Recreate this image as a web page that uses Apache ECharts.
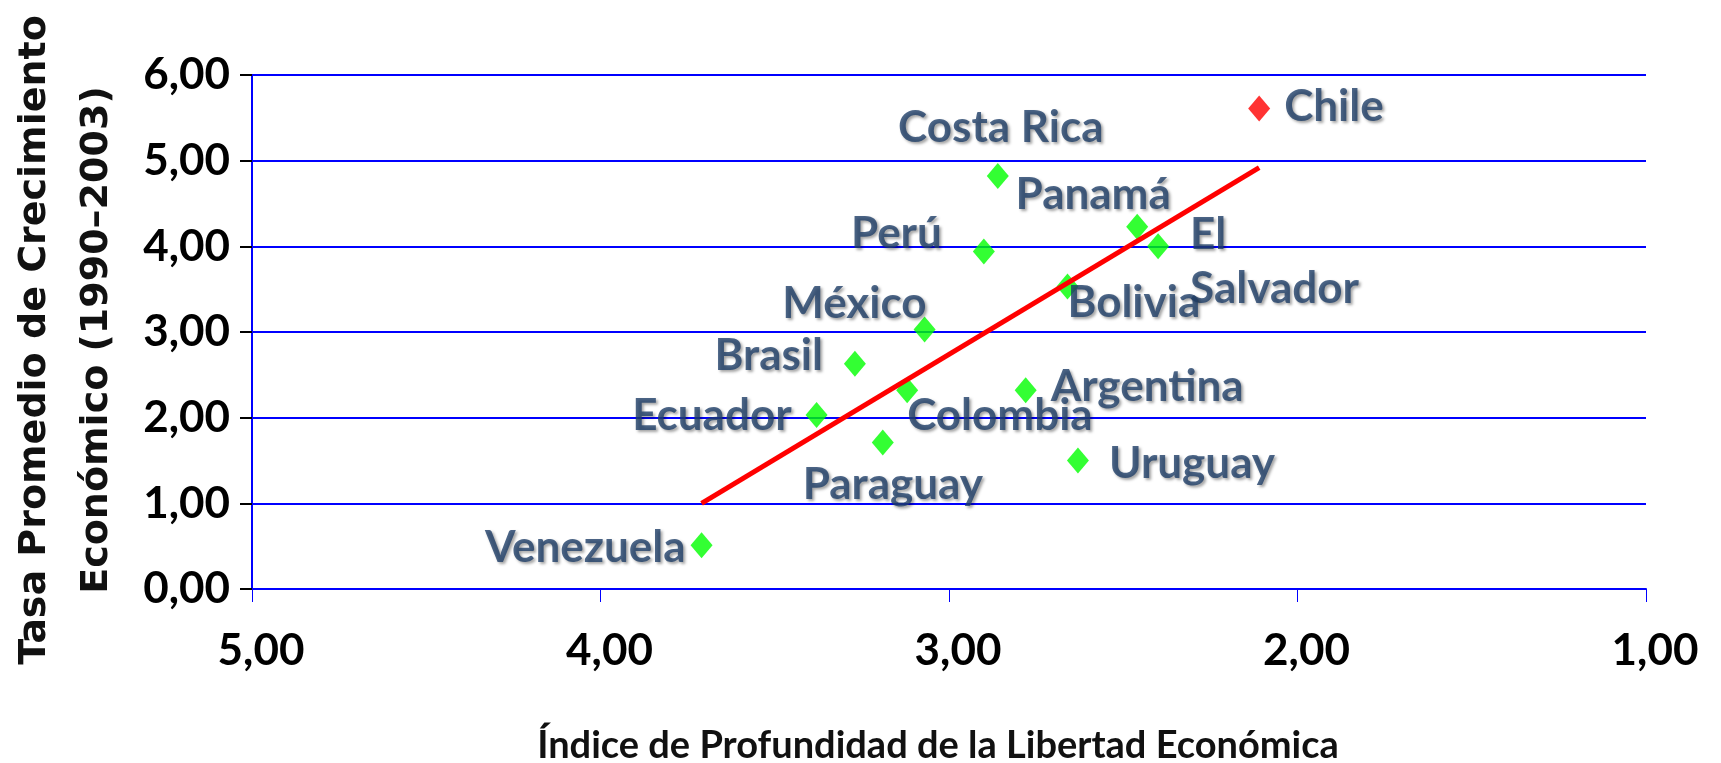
<!DOCTYPE html>
<html>
<head>
<meta charset="utf-8">
<script src="https://cdn.jsdelivr.net/npm/echarts@6/dist/echarts.min.js"></script>
<style>
  html, body { margin: 0; padding: 0; background: #fff; }
  #chart { width: 1721px; height: 763px; }
</style>
</head>
<body>
<div id="chart"></div>
<script>
// data
var countries = ['Chile', 'Costa Rica', 'Panamá', 'El Salvador', 'Perú', 'Bolivia', 'México',
  'Brasil', 'Argentina', 'Colombia', 'Ecuador', 'Paraguay', 'Uruguay', 'Venezuela'];
var libertad = [2.11, 2.86, 2.46, 2.40, 2.90, 2.66, 3.07, 3.27, 2.78, 3.12, 3.38, 3.19, 2.63, 3.71];
var crecimiento = [5.61, 4.82, 4.23, 4.00, 3.94, 3.53, 3.03, 2.63, 2.32, 2.32, 2.03, 1.71, 1.50, 0.51];
var trendX = [3.71, 2.11];
var trendY = [1.00, 4.92];
var highlight = 'Chile';

// where each country name sits around its marker
var labelLayout = {
  'Chile': { align: 'left', offset: [25, -2] },
  'Costa Rica': { align: 'center', offset: [3, -48] },
  'Panamá': { align: 'center', offset: [-44, -32] },
  'El Salvador': { align: 'left', offset: [32, 15], text: 'El\nSalvador' },
  'Perú': { align: 'right', offset: [-42, -18] },
  'Bolivia': { align: 'left', offset: [0, 16] },
  'México': { align: 'right', offset: [2, -26] },
  'Brasil': { align: 'right', offset: [-32, -8] },
  'Argentina': { align: 'left', offset: [25, -3] },
  'Colombia': { align: 'left', offset: [0, 26] },
  'Ecuador': { align: 'right', offset: [-25, 1] },
  'Paraguay': { align: 'center', offset: [10, 42] },
  'Uruguay': { align: 'left', offset: [31, 3] },
  'Venezuela': { align: 'right', offset: [-16, 3] }
};

function coma(v) {
  return v.toFixed(2).replace('.', ',');
}

var points = [];
for (var i = 0; i < countries.length; i++) {
  var lay = labelLayout[countries[i]];
  points.push({
    name: countries[i],
    value: [libertad[i], crecimiento[i]],
    itemStyle: { color: countries[i] === highlight ? '#ff0000' : '#00ff00' },
    label: {
      align: lay.align,
      offset: lay.offset,
      formatter: lay.text || countries[i]
    }
  });
}

var trend = [];
for (var j = 0; j < trendX.length; j++) {
  trend.push([trendX[j], trendY[j]]);
}

var myChart = echarts.init(document.getElementById('chart'));
var option = {
  animation: false,
  grid: { left: 252, right: 75, top: 75, bottom: 174, containLabel: false, outerBoundsMode: 'none' },
  xAxis: {
    type: 'value',
    min: 1,
    max: 5,
    interval: 1,
    inverse: true,
    name: 'Índice de Profundidad de la Libertad Económica',
    nameLocation: 'middle',
    nameGap: 138,
    nameTextStyle: {
      fontFamily: 'Lato', fontWeight: 'bold', fontSize: 38, color: '#111',
      padding: [0, 22, 0, 0]
    },
    axisLine: { lineStyle: { color: '#0000ff', width: 2 } },
    axisTick: { length: 13, lineStyle: { color: '#0000ff', width: 1 } },
    axisLabel: {
      margin: 40,
      formatter: coma,
      fontFamily: 'Lato', fontWeight: 'bold', fontSize: 44, color: '#000',
      padding: [0, 0, 0, 18]
    },
    splitLine: { show: false }
  },
  yAxis: {
    type: 'value',
    min: 0,
    max: 6,
    interval: 1,
    name: 'Tasa Promedio de Crecimiento\nEconómico (1990–2003)',
    nameLocation: 'middle',
    nameRotate: 90,
    nameGap: 124,
    nameTextStyle: {
      fontFamily: 'DejaVu Sans', fontWeight: 'bold', fontSize: 38, color: '#111',
      lineHeight: 62,
      padding: [0, 16, 0, 0]
    },
    axisLine: { show: true, lineStyle: { color: '#0000ff', width: 2 } },
    axisTick: { show: true, length: 12, lineStyle: { color: '#000', width: 2 } },
    axisLabel: {
      margin: 22,
      formatter: coma,
      fontFamily: 'Lato', fontWeight: 'bold', fontSize: 44, color: '#000'
    },
    splitLine: { lineStyle: { color: '#0000ff', width: 2 } }
  },
  series: [
    {
      type: 'scatter',
      symbol: 'diamond',
      symbolSize: [22, 26],
      z: 2,
      data: points,
      label: {
        show: true,
        position: 'inside',
        verticalAlign: 'middle',
        fontFamily: 'Lato',
        fontWeight: 'bold',
        fontSize: 44,
        lineHeight: 54,
        color: '#1f3f68',
        textShadowColor: 'rgba(0,0,0,0.45)',
        textShadowBlur: 3,
        textShadowOffsetX: 2,
        textShadowOffsetY: 2
      }
    },
    {
      type: 'line',
      data: trend,
      symbol: 'none',
      z: 3,
      lineStyle: { color: '#ff0000', width: 5 }
    }
  ]
};
myChart.setOption(option);
</script>
</body>
</html>
